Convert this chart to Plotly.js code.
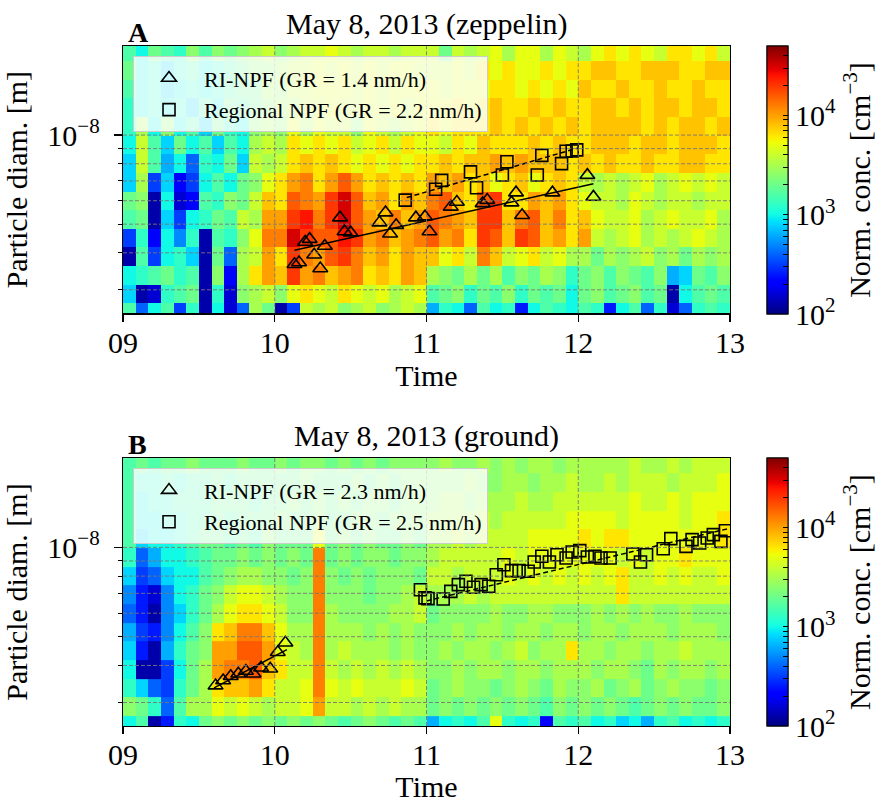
<!DOCTYPE html>
<html>
<head>
<meta charset="utf-8">
<script src="https://cdn.plot.ly/plotly-3.0.1.min.js"></script>
<style>html,body{margin:0;padding:0;background:#fff}</style>
</head>
<body>
<div id="chart" style="width:877px;height:803px"></div>
<script>
// size bin edges in nm, top of the chart first (rows of the z tables follow the same order)
var sizeEdgesNm = [20.0, 17.8, 15.4, 13.3, 11.5, 9.95, 8.61, 7.45, 6.44, 5.57, 4.82, 4.17, 3.61, 3.12, 2.70, 2.50];
// time bins: 5 minute columns starting at 09:00
var binStartHour = 9, binMinutes = 5;

// log10 of normalised concentration [cm^-3], zeppelin
var zeppelinLogConc = [
  [3.2,3.0,3.3,3.2,3.1,3.4,3.2,3.4,3.3,3.4,3.5,3.6,3.4,3.5,3.6,3.6,3.7,3.6,3.5,3.6,3.6,3.5,3.6,3.6, 3.6,3.3,3.6,3.5,3.6,3.7,3.5,3.7,3.7,3.5,3.7,3.6,3.5,3.7,3.8,3.7,3.8,3.7,3.6,3.8,3.8,3.7,3.8,3.6],
  [3.3,3.0,3.1,2.9,3.1,3.2,3.0,3.1,3.2,3.3,3.4,3.4,3.5,3.6,3.6,3.7,3.6,3.7,3.6,3.7,3.6,3.7,3.7,3.6, 3.6,3.6,3.7,3.6,3.8,3.7,3.8,3.7,3.7,3.8,3.7,3.8,3.8,3.9,3.9,3.8,3.8,3.9,3.9,3.9,3.8,3.8,3.9,3.9],
  [3.2,3.0,3.1,2.9,3.0,3.1,3.0,3.1,3.2,3.3,3.3,3.5,3.4,3.6,3.6,3.7,3.7,3.7,3.6,3.7,3.6,3.7,3.7,3.7, 3.7,3.6,3.7,3.7,3.7,3.8,3.8,3.7,3.8,3.7,3.8,3.7,3.9,3.8,3.8,3.9,3.8,3.8,3.9,3.8,3.8,3.9,3.8,3.8],
  [3.1,3.0,3.1,3.0,3.1,2.9,3.2,3.0,3.3,3.2,3.3,3.4,3.5,3.5,3.6,3.6,3.7,3.6,3.6,3.7,3.6,3.7,3.6,3.7, 3.7,3.7,3.8,3.7,3.8,3.9,3.8,3.8,3.9,3.8,3.9,3.8,3.8,3.9,3.9,3.8,3.9,3.8,3.9,3.9,3.8,3.9,3.9,3.8],
  [3.1,3.5,3.0,3.4,3.0,3.2,2.9,3.3,3.1,3.0,3.4,3.5,3.4,3.7,3.5,3.7,3.6,3.6,3.4,3.7,3.6,3.5,3.6,3.7, 3.8,3.7,3.8,3.8,3.8,3.9,3.8,3.9,3.8,3.9,3.8,3.9,3.8,3.9,3.9,3.9,3.9,3.8,3.9,3.8,3.9,3.9,3.8,3.9],
  [3.0,3.6,3.2,2.9,3.3,3.0,3.2,2.9,3.2,3.0,3.5,3.6,3.5,3.8,3.7,3.8,3.7,3.8,3.6,3.7,3.8,3.6,3.8,3.7, 3.7,3.6,3.8,3.7,3.9,3.8,3.8,3.8,3.9,3.8,3.9,3.8,3.8,3.9,3.9,3.9,3.8,3.9,3.9,3.8,3.9,3.9,3.9,3.8],
  [2.9,3.6,3.2,2.8,3.0,2.6,3.1,3.0,3.3,2.9,3.6,3.5,3.6,3.8,3.9,3.8,3.9,3.8,3.7,3.8,3.7,3.8,3.7,3.8, 3.8,3.9,3.8,3.9,3.9,4.0,3.9,4.0,3.9,3.9,3.9,3.8,3.9,3.8,3.9,3.8,3.8,3.9,3.8,3.8,3.9,3.9,3.8,3.8],
  [2.9,3.5,2.5,2.9,2.3,2.5,3.0,3.2,3.0,3.3,3.4,3.7,3.8,4.0,4.1,3.8,4.0,4.2,4.0,3.8,3.9,3.8,3.9,3.8, 4.0,3.9,4.0,3.8,3.9,3.7,3.8,3.9,3.7,3.8,3.9,3.8,3.6,3.5,3.6,3.5,3.6,3.7,3.5,3.6,3.7,3.6,3.7,3.6],
  [3.3,3.4,2.1,3.0,2.2,2.3,3.2,3.1,3.4,3.3,3.6,3.9,3.8,4.2,4.1,4.0,4.3,4.5,4.2,3.9,4.0,3.8,4.0,3.9, 4.1,4.2,3.9,3.8,4.2,4.3,3.8,3.8,4.0,3.9,4.0,3.8,3.7,3.6,3.6,3.5,3.7,3.6,3.5,3.6,3.6,3.5,3.6,3.6],
  [3.2,3.3,2.1,2.9,2.5,3.0,3.1,3.3,3.2,3.6,3.5,4.0,4.0,4.3,4.4,4.1,4.3,4.5,4.2,4.0,3.9,4.1,3.9,4.0, 4.2,4.1,4.0,3.9,4.3,4.3,3.9,4.1,4.2,3.9,4.1,3.8,3.9,3.7,3.6,3.6,3.7,3.5,3.6,3.7,3.6,3.6,3.7,3.5],
  [2.5,3.1,2.3,3.0,2.7,3.1,2.1,3.2,3.1,3.4,3.7,4.1,4.1,4.5,4.3,4.2,4.2,4.4,4.3,4.0,4.1,3.9,4.0,4.1, 4.2,4.0,4.1,3.8,4.3,4.2,3.9,4.3,4.2,3.9,4.0,3.8,4.0,3.6,3.5,3.6,3.7,3.5,3.6,3.5,3.6,3.7,3.6,3.5],
  [2.1,3.2,2.5,3.0,3.1,2.9,2.1,3.3,2.6,3.5,3.6,4.0,3.8,4.3,4.1,4.0,4.2,4.3,4.1,3.9,4.0,3.8,4.0,3.9, 3.9,3.7,3.8,3.6,4.1,3.9,3.6,3.7,3.8,3.6,3.7,3.5,3.5,3.3,3.5,3.4,3.5,3.6,3.4,3.5,3.3,3.5,3.4,3.5],
  [3.0,3.1,3.2,3.3,3.1,3.2,2.1,3.4,2.3,3.5,3.8,4.0,3.9,4.3,4.0,4.1,3.9,4.0,4.1,3.8,3.9,3.8,4.0,3.9, 3.5,3.4,3.3,3.5,3.3,3.5,3.2,3.4,3.3,3.5,3.4,3.1,3.3,3.4,3.2,3.4,3.3,3.2,3.4,2.8,2.9,3.3,3.2,3.4],
  [2.9,2.1,2.2,3.1,3.2,3.3,2.1,3.1,2.2,3.4,3.5,3.6,3.4,3.7,3.8,3.7,3.6,3.8,3.7,3.6,3.7,3.5,3.6,3.7, 3.2,3.3,3.4,3.1,3.3,3.2,3.4,3.1,3.3,3.2,3.3,3.0,3.3,3.4,3.2,3.3,3.4,3.2,3.3,2.1,3.0,3.2,3.3,3.2],
  [3.2,2.6,3.0,3.2,2.5,3.1,2.1,3.0,2.2,2.6,3.5,3.3,2.1,2.5,3.6,3.5,3.6,3.4,3.5,3.6,3.4,3.5,3.6,3.5, 2.8,3.1,3.0,2.6,3.2,3.0,3.1,2.4,3.0,3.2,3.1,3.0,3.2,3.1,2.4,3.0,3.2,2.6,3.1,2.2,2.6,3.1,3.2,3.1]
];

// log10 of normalised concentration [cm^-3], ground
var groundLogConc = [
  [3.2,3.3,3.2,3.3,3.3,3.4,3.3,3.3,3.3,3.4,3.3,3.3,3.4,3.3,3.4,3.4,3.3,3.4,3.3,3.4,3.3,3.4,3.4,3.4, 3.4,3.5,3.4,3.4,3.5,3.4,3.5,3.4,3.5,3.5,3.4,3.5,3.5,3.5,3.5,3.5,3.6,3.5,3.5,3.6,3.5,3.6,3.6,3.6],
  [3.2,3.1,3.1,3.2,3.1,3.2,3.2,3.3,3.2,3.3,3.3,3.3,3.3,3.3,3.4,3.3,3.3,3.3,3.4,3.3,3.4,3.3,3.4,3.4, 3.4,3.4,3.4,3.5,3.4,3.4,3.5,3.5,3.4,3.5,3.5,3.6,3.5,3.5,3.6,3.5,3.6,3.6,3.6,3.5,3.6,3.6,3.6,3.7],
  [3.2,3.0,3.1,3.1,3.2,3.2,3.2,3.3,3.3,3.3,3.2,3.3,3.3,3.4,3.3,3.4,3.3,3.4,3.3,3.4,3.4,3.3,3.4,3.4, 3.4,3.5,3.5,3.4,3.5,3.5,3.5,3.6,3.5,3.5,3.6,3.6,3.6,3.6,3.6,3.6,3.7,3.6,3.6,3.7,3.6,3.7,3.7,3.7],
  [3.2,3.0,3.0,3.1,3.1,3.2,3.2,3.3,3.2,3.3,3.3,3.3,3.4,3.3,3.3,3.4,3.3,3.3,3.4,3.4,3.3,3.4,3.4,3.4, 3.5,3.5,3.5,3.5,3.6,3.5,3.6,3.6,3.6,3.6,3.6,3.7,3.7,3.7,3.7,3.6,3.7,3.7,3.7,3.7,3.6,3.7,3.7,3.8],
  [3.2,2.9,3.0,3.0,3.1,3.2,3.3,3.3,3.2,3.3,3.2,3.4,3.3,3.3,3.3,3.7,3.3,3.4,3.3,3.4,3.3,3.3,3.4,3.3, 3.5,3.5,3.6,3.5,3.6,3.6,3.6,3.6,3.7,3.7,3.7,3.7,3.8,3.7,3.8,3.8,3.7,3.7,3.7,3.7,3.7,3.7,3.7,3.8],
  [3.1,2.6,2.8,3.0,3.0,3.1,3.2,3.3,3.3,3.4,3.3,3.4,3.3,3.4,3.3,4.1,3.3,3.4,3.3,3.4,3.4,3.3,3.4,3.4, 3.5,3.6,3.6,3.6,3.6,3.6,3.7,3.6,3.7,3.7,3.7,3.7,3.7,3.7,3.7,3.6,3.7,3.6,3.7,3.7,3.8,3.7,3.7,3.7],
  [2.9,2.5,2.6,2.9,3.0,3.0,3.2,3.3,3.4,3.5,3.5,3.4,3.4,3.3,3.4,4.1,3.4,3.3,3.4,3.3,3.4,3.4,3.4,3.3, 3.6,3.6,3.5,3.6,3.6,3.6,3.7,3.6,3.7,3.6,3.7,3.6,3.7,3.6,3.7,3.8,3.6,3.6,3.7,3.6,3.7,3.6,3.6,3.7],
  [2.7,2.4,2.2,2.7,3.0,3.1,3.3,3.4,3.6,3.7,3.7,3.6,3.5,3.4,3.4,4.1,3.4,3.4,3.4,3.3,3.4,3.4,3.5,3.6, 3.5,3.5,3.5,3.6,3.5,3.6,3.6,3.6,3.6,3.6,3.6,3.6,3.6,3.6,3.6,3.8,3.6,3.6,3.6,3.6,3.6,3.6,3.6,3.6],
  [2.6,2.4,2.1,2.7,2.9,3.1,3.3,3.5,3.7,3.8,3.8,3.7,3.6,3.4,3.4,4.1,3.5,3.4,3.4,3.4,3.4,3.5,3.5,3.6, 3.3,3.4,3.4,3.4,3.4,3.5,3.4,3.4,3.5,3.5,3.4,3.4,3.4,3.5,3.4,3.5,3.4,3.5,3.4,3.4,3.5,3.4,3.4,3.4],
  [2.8,2.5,2.4,2.7,3.0,3.2,3.4,3.8,3.9,4.1,4.1,3.9,3.7,3.5,3.5,4.1,3.5,3.5,3.5,3.4,3.5,3.4,3.5,3.4, 3.4,3.4,3.5,3.4,3.5,3.5,3.4,3.5,3.5,3.4,3.5,3.5,3.4,3.5,3.5,3.4,3.5,3.5,3.5,3.4,3.5,3.5,3.5,3.4],
  [2.9,2.4,2.1,2.8,3.1,3.3,3.4,4.0,4.0,4.2,4.2,4.0,3.7,3.6,3.5,4.1,3.5,3.6,3.5,3.5,3.5,3.4,3.5,3.4, 3.4,3.5,3.4,3.5,3.5,3.4,3.5,3.6,3.4,3.5,3.5,3.8,3.5,3.5,3.4,3.5,3.5,3.4,3.5,3.5,3.6,3.5,3.5,3.5],
  [3.0,2.1,2.1,2.5,3.0,3.3,3.5,4.0,4.1,4.1,4.2,3.9,3.8,3.6,3.6,4.1,3.6,3.5,3.6,3.5,3.6,3.5,3.6,3.5, 3.4,3.4,3.5,3.4,3.5,3.5,3.4,3.5,3.5,3.4,3.5,3.5,3.5,3.4,3.5,3.5,3.4,3.3,3.5,3.4,3.5,3.5,3.4,3.5],
  [3.1,2.9,2.6,2.5,3.1,3.3,3.5,3.8,3.9,3.9,4.0,3.8,3.6,3.6,3.7,4.1,3.7,3.6,3.7,3.6,3.6,3.6,3.7,3.6, 3.3,3.4,3.5,3.4,3.4,3.3,3.4,3.5,3.4,3.3,3.5,3.4,3.4,3.5,3.3,3.4,3.5,3.3,3.4,3.5,3.4,3.4,3.3,3.4],
  [3.4,3.3,3.1,2.6,3.2,3.5,3.5,3.7,3.6,3.7,3.6,3.5,3.6,3.6,3.7,4.0,3.6,3.6,3.5,3.6,3.5,3.6,3.5,3.5, 3.3,3.4,3.3,3.4,3.3,3.4,3.3,3.4,3.3,3.2,3.4,3.3,3.4,3.3,3.4,3.3,3.2,3.3,3.4,3.3,3.4,3.3,3.3,3.4],
  [3.0,3.2,2.1,2.4,3.1,3.0,3.3,3.4,3.3,3.4,3.3,3.4,3.3,3.4,3.3,3.4,3.3,3.2,3.3,3.4,3.3,3.2,3.3,3.2, 2.8,3.0,3.1,3.0,3.2,3.7,3.1,3.0,3.1,2.3,3.2,3.1,3.2,3.0,3.1,2.9,3.0,2.8,3.1,3.2,3.0,3.1,3.0,3.1]
];

// growth points, time [h] and diameter [nm]
var riTopT = [10.13,10.16,10.20,10.23,10.26,10.30,10.33,10.43,10.46,10.50,10.69,10.73,10.76,10.80,10.93,10.99,11.02,11.16,11.20,11.37,11.40,11.56,11.59,11.63,11.83,12.06,12.10];
var riTopD = [3.66,3.71,4.35,4.45,3.94,3.54,4.22,5.26,4.72,4.68,5.06,5.47,4.64,4.96,5.26,5.30,4.72,5.72,5.94,5.88,6.03,5.91,6.39,5.36,6.39,7.32,6.18];
var regTopT = [10.86,11.06,11.10,11.29,11.33,11.50,11.53,11.73,11.76,11.89,11.92,11.96,11.99];
var regTopD = [6.03,6.56,7.03,7.51,6.64,7.33,8.13,7.33,8.54,8.01,8.82,8.84,8.91];
var riTopFitT = [10.13, 12.10], riTopFitD = [4.08, 6.85];
var regTopFitT = [10.87, 12.00], regTopFitD = [6.15, 9.05];

var riBotT = [9.61,9.66,9.71,9.76,9.81,9.86,9.91,9.97,10.02,10.07];
var riBotD = [3.42,3.56,3.68,3.75,3.83,3.75,3.93,3.90,4.43,4.77];
var regBotT = [10.96,10.99,11.01,11.11,11.16,11.21,11.26,11.31,11.36,11.41,11.46,11.51,11.56,11.61,11.67,11.71,11.76,11.81,11.86,11.92,11.96,12.01,12.06,12.11,12.15,12.21,12.36,12.41,12.45,12.56,12.61,12.71,12.75,12.80,12.85,12.89,12.94,12.97];
var regBotD = [7.20,6.76,6.72,6.70,7.11,7.49,7.69,7.34,7.49,7.40,8.09,8.74,8.35,8.35,8.31,8.93,9.33,8.93,9.45,9.21,9.65,9.75,9.28,9.33,9.21,9.21,9.50,8.93,9.45,9.90,10.70,10.08,10.62,10.35,10.76,11.04,10.48,11.38];
var riBotFitT = [9.60, 10.08], riBotFitD = [3.36, 4.52];
var regBotFitT = [11.0, 13.0], regBotFitD = [6.6, 11.6];

var riTopLabel = 'RI-NPF (GR = 1.4 nm/h)', regTopLabel = 'Regional NPF (GR = 2.2 nm/h)';
var riBotLabel = 'RI-NPF (GR = 2.3 nm/h)', regBotLabel = 'Regional NPF (GR = 2.5 nm/h)';

var timeTicks = [9, 10, 11, 12, 13];
var timeLabels = ['09', '10', '11', '12', '13'];

var SERIF = 'Liberation Serif, Times New Roman, DejaVu Serif, serif';
var nm = function(a){ return a.map(function(v){ return v * 1e-9; }); };

// matplotlib "jet"
var jet = [
  [0, 'rgb(0,0,127)'], [0.11, 'rgb(0,0,255)'], [0.125, 'rgb(0,0,255)'],
  [0.34, 'rgb(0,219,255)'], [0.35, 'rgb(0,229,247)'], [0.375, 'rgb(20,255,226)'],
  [0.64, 'rgb(239,255,8)'], [0.65, 'rgb(247,245,0)'], [0.66, 'rgb(255,236,0)'],
  [0.89, 'rgb(255,19,0)'], [0.91, 'rgb(232,0,0)'], [1, 'rgb(127,0,0)']
];
var zMin = 2, zMax = Math.log10(5e4);

// colorbar: labels at the decades, tick marks at 1..9 x 10^n
var cbMajor = [2, 3, 4];
var cbMajorText = ['10<sup>2</sup>', '10<sup>3</sup>', '10<sup>4</sup>'];
var cbAllTicks = [];
cbMajor.forEach(function(e) {
  for (var k = 1; k <= 9; k++) {
    var v = e + Math.log10(k);
    if (v <= zMax + 1e-6) cbAllTicks.push(v);
  }
});

var cbBase = {
  x: 1.061, xanchor: 'left', xpad: 0, yanchor: 'top', ypad: 0,
  len: 268, lenmode: 'pixels', thickness: 21, thicknessmode: 'pixels',
  outlinewidth: 1, outlinecolor: '#000'
};

function heat(z, xa, ya, cbY) {
  return {
    type: 'heatmap',
    z: z.slice().reverse(),
    x0: binStartHour + binMinutes / 120, dx: binMinutes / 60,
    y: nm(sizeEdgesNm.slice().reverse()),
    xaxis: xa, yaxis: ya,
    colorscale: jet, zmin: zMin, zmax: zMax, zsmooth: false,
    showlegend: false, hoverinfo: 'skip',
    colorbar: Object.assign({}, cbBase, {
      y: cbY,
      tickmode: 'array', tickvals: cbMajor, ticktext: cbMajorText, ticks: '',
      tickfont: {family: SERIF, size: 30, color: '#000'},
      title: {text: 'Norm. conc. [cm<sup>−3</sup>]', side: 'right',
              font: {family: SERIF, size: 30, color: '#000'}}
    })
  };
}

// same map, invisible; only its colour bar is used to carry the tick marks
function heatTicks(z, xa, ya, cbY) {
  var t = heat(z, xa, ya, cbY);
  t.opacity = 0;
  t.colorbar = Object.assign({}, cbBase, {
    y: cbY, tickmode: 'array', tickvals: cbAllTicks, showticklabels: false,
    ticks: 'inside', ticklen: 5, tickwidth: 1, tickcolor: '#000'
  });
  return t;
}

function points(t, d, sym, size, name, xa, ya, leg) {
  return {
    type: 'scatter', mode: 'markers', x: t, y: nm(d), name: name,
    xaxis: xa, yaxis: ya, legend: leg,
    marker: {symbol: sym, size: size, color: '#000', line: {color: '#000', width: 1.6}}
  };
}

function fit(t, d, dash, xa, ya) {
  return {
    type: 'scatter', mode: 'lines', x: t, y: nm(d), showlegend: false,
    xaxis: xa, yaxis: ya, hoverinfo: 'skip',
    line: {color: '#000', width: 1.5, dash: dash}
  };
}

var data = [
  heat(zeppelinLogConc, 'x', 'y', 1),
  heatTicks(zeppelinLogConc, 'x', 'y', 1),
  fit(riTopFitT, riTopFitD, 'solid', 'x', 'y'),
  fit(regTopFitT, regTopFitD, '5px,3px', 'x', 'y'),
  points(riTopT, riTopD, 'triangle-up-open', 13, riTopLabel, 'x', 'y', 'legend'),
  points(regTopT, regTopD, 'square-open', 12, regTopLabel, 'x', 'y', 'legend'),
  heat(groundLogConc, 'x2', 'y2', 0.394),
  heatTicks(groundLogConc, 'x2', 'y2', 0.394),
  fit(riBotFitT, riBotFitD, 'solid', 'x2', 'y2'),
  fit(regBotFitT, regBotFitD, '5px,3px', 'x2', 'y2'),
  points(riBotT, riBotD, 'triangle-up-open', 13, riBotLabel, 'x2', 'y2', 'legend2'),
  points(regBotT, regBotD, 'square-open', 12, regBotLabel, 'x2', 'y2', 'legend2')
];

var gridDiam = [3e-9, 4e-9, 5e-9, 6e-9, 7e-9, 8e-9, 9e-9, 1e-8];

function xAxis(anchor) {
  return {
    anchor: anchor, range: [9, 13],
    tickmode: 'array', tickvals: timeTicks, ticktext: timeLabels,
    ticks: 'outside', ticklen: 7, tickwidth: 1.2, tickcolor: '#000',
    ticklabelstandoff: -5,
    showline: true, mirror: true, linecolor: '#000', linewidth: 1.3,
    showgrid: false, zeroline: false,
    tickfont: {family: SERIF, size: 30, color: '#000'},
    title: {text: 'Time', standoff: 0, font: {family: SERIF, size: 30, color: '#000'}}
  };
}
function yAxis(anchor, domain) {
  return {
    anchor: anchor, domain: domain, type: 'log',
    range: [Math.log10(2.5e-9), Math.log10(2.0e-8)],
    tickmode: 'array', tickvals: [1e-8], ticktext: ['10<sup>−8</sup>'],
    ticks: 'outside', ticklen: 8, tickwidth: 1.2, tickcolor: '#000',
    ticklabelstandoff: 8,
    minor: {tickmode: 'array', tickvals: gridDiam.slice(0, 7), ticks: 'outside',
            ticklen: 4, tickwidth: 1, tickcolor: '#000', showgrid: false},
    showline: true, mirror: true, linecolor: '#000', linewidth: 1.3,
    showgrid: false, zeroline: false,
    tickfont: {family: SERIF, size: 30, color: '#000'},
    title: {text: 'Particle diam. [m]', standoff: 10, font: {family: SERIF, size: 30, color: '#000'}}
  };
}

// dashed grid drawn over the heatmap
var shapes = [];
[['x', 'y'], ['x2', 'y2']].forEach(function(p) {
  var gl = {color: 'rgba(120,120,120,0.9)', width: 1, dash: '4px,2px'};
  [10, 11, 12].forEach(function(t) {
    shapes.push({type: 'line', layer: 'above', xref: p[0], yref: p[1] + ' domain',
                 x0: t, x1: t, y0: 0, y1: 1, line: gl});
  });
  gridDiam.forEach(function(d) {
    shapes.push({type: 'line', layer: 'above', xref: p[0] + ' domain', yref: p[1],
                 x0: 0, x1: 1, y0: d, y1: d, line: gl});
  });
});

var legBase = {
  xanchor: 'left', yanchor: 'top', x: 0.0165,
  bgcolor: 'rgba(255,255,255,0.8)', bordercolor: '#cccccc', borderwidth: 1,
  font: {family: SERIF, size: 22, color: '#000'}, tracegroupgap: 0, itemwidth: 60
};

var titleFont = {family: SERIF, size: 30, color: '#000'};
var layout = {
  width: 877, height: 803,
  margin: {l: 123, r: 147, t: 46, b: 77, autoexpand: false},
  paper_bgcolor: '#fff', plot_bgcolor: '#fff',
  font: {family: SERIF, color: '#000'},
  xaxis: xAxis('y'), yaxis: yAxis('x', [0.607, 1]),
  xaxis2: xAxis('y2'), yaxis2: yAxis('x2', [0, 0.394]),
  legend: Object.assign({y: 0.985}, legBase),
  legend2: Object.assign({y: 0.379}, legBase),
  shapes: shapes,
  annotations: [
    {text: 'May 8, 2013 (zeppelin)', xref: 'paper', yref: 'paper', x: 0.5, y: 1,
     xanchor: 'center', yanchor: 'bottom', yshift: 3, showarrow: false, font: titleFont},
    {text: '<b>A</b>', xref: 'paper', yref: 'paper', x: 0, y: 1, xshift: 3,
     xanchor: 'left', yanchor: 'bottom', yshift: -4, showarrow: false, font: {family: SERIF, size: 28, color: '#000'}},
    {text: 'May 8, 2013 (ground)', xref: 'paper', yref: 'paper', x: 0.5, y: 0.394,
     xanchor: 'center', yanchor: 'bottom', yshift: 3, showarrow: false, font: titleFont},
    {text: '<b>B</b>', xref: 'paper', yref: 'paper', x: 0, y: 0.394, xshift: 3,
     xanchor: 'left', yanchor: 'bottom', yshift: -4, showarrow: false, font: {family: SERIF, size: 28, color: '#000'}}
  ]
};

Plotly.newPlot('chart', data, layout, {displayModeBar: false, staticPlot: true});
</script>
</body>
</html>
